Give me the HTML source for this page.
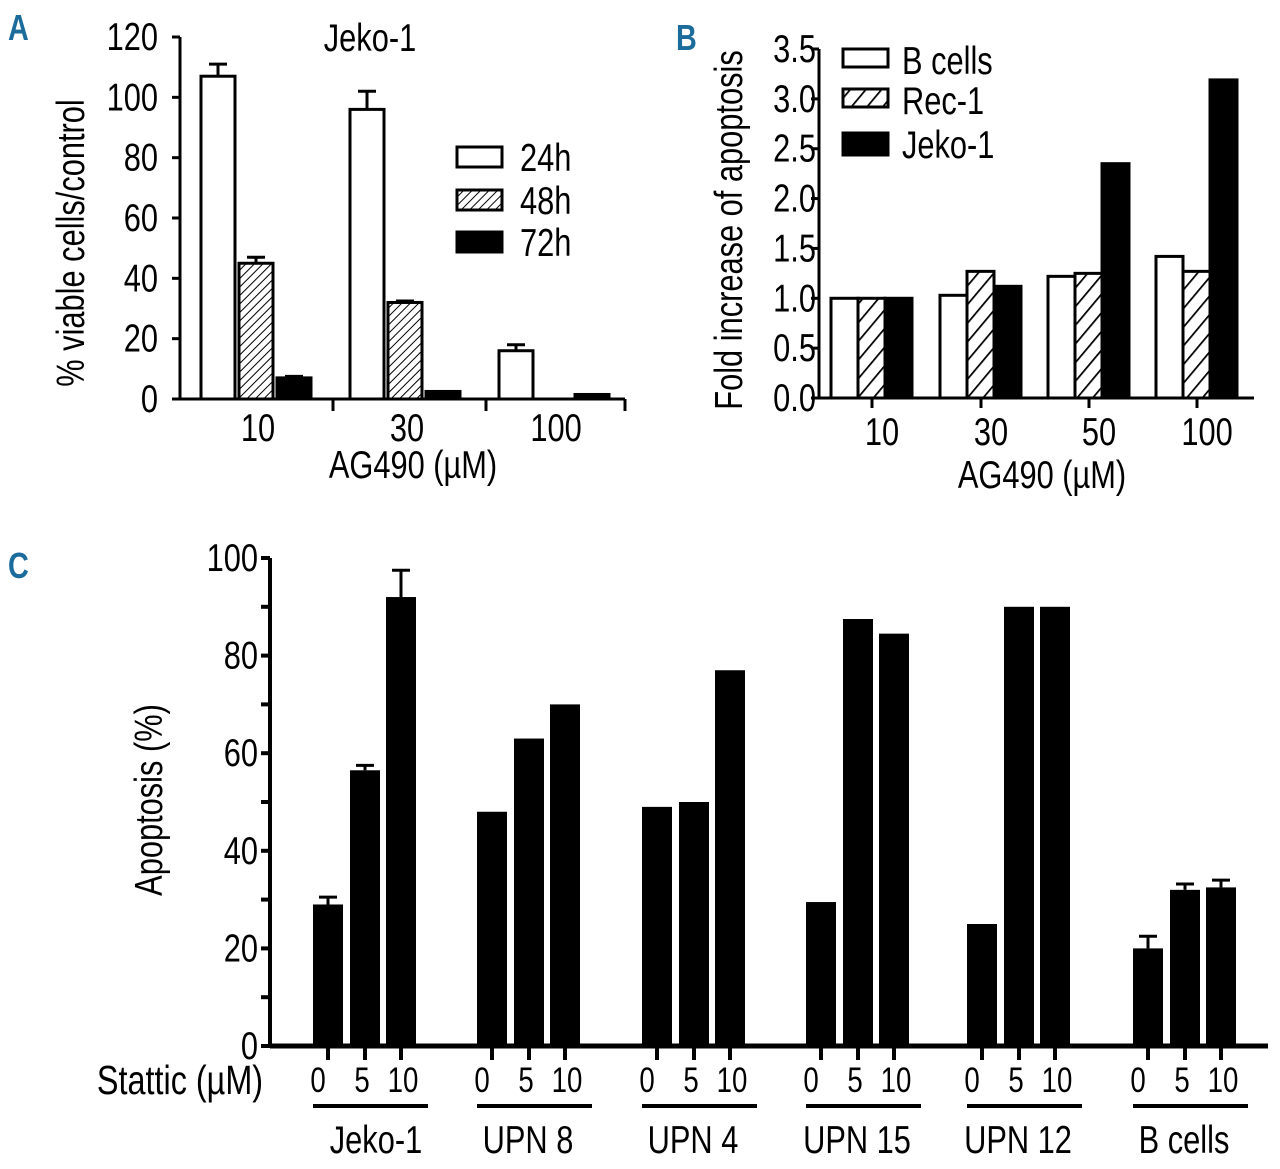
<!DOCTYPE html>
<html><head><meta charset="utf-8"><style>
html,body{margin:0;padding:0;background:#fff;}
svg{display:block;font-family:"Liberation Sans Narrow","Liberation Sans",sans-serif;}
</style></head><body>
<svg id="fig" width="1280" height="1169" viewBox="0 0 1280 1169">
<defs>
<pattern id="hatchA" width="6" height="6" patternUnits="userSpaceOnUse" patternTransform="rotate(45)"><rect width="6" height="6" fill="#fff"/><line x1="0" y1="0" x2="0" y2="6" stroke="#000" stroke-width="2"/></pattern>
<pattern id="hatchB" width="12" height="12" patternUnits="userSpaceOnUse" patternTransform="rotate(40)"><rect width="12" height="12" fill="#fff"/><line x1="0" y1="0" x2="0" y2="12" stroke="#000" stroke-width="3.5"/></pattern>
</defs>
<g id="pA"></g>
<g id="pB"></g>
<g id="pC"></g>
</svg>
<script>
// Panel A data
const aCats = ["10","30","100"];
const aSeries = ["24h","48h","72h"];
const a24 = [107, 96, 16];
const a48 = [45, 32, 0];
const a72 = [7, 2.5, 1.5];
const a24err = [4, 6, 2];
const a48err = [2, 0.5, 0];
const a72err = [0.5, 0.3, 0.2];
const aTicks = [0,20,40,60,80,100,120];
// Panel B data
const bCats = ["10","30","50","100"];
const bSeries = ["B cells","Rec-1","Jeko-1"];
const bB = [1.0, 1.03, 1.22, 1.42];
const bRec = [1.0, 1.27, 1.25, 1.27];
const bJeko = [1.0, 1.12, 2.35, 3.19];
const bTicks = ["0.0","0.5","1.0","1.5","2.0","2.5","3.0","3.5"];
// Panel C data
const cGroups = ["Jeko-1","UPN 8","UPN 4","UPN 15","UPN 12","B cells"];
const cDoses = ["0","5","10"];
const cVals = [[29,56.5,92],[48,63,70],[49,50,77],[29.5,87.5,84.5],[25,90,90],[20,32,32.5]];
const cErr = [[1.5,1,5.5],[0,0,0],[0,0,0],[0,0,0],[0,0,0],[2.5,1.2,1.5]];
const cTicks = [0,20,40,60,80,100];

const NS="http://www.w3.org/2000/svg";
const SX=0.79;
function mk(parent,tag,attrs,name,text){
  const e=document.createElementNS(NS,tag);
  for(const k in attrs) e.setAttribute(k,attrs[k]);
  
  
  if(text!==undefined) e.textContent=text;
  parent.appendChild(e); return e;
}
function txt(parent,x,y,size,anchor,name,text){
  return mk(parent,'text',{x:0,y:0,'font-size':size,'text-anchor':anchor,transform:'translate('+x+','+y+') scale('+SX+',1)'},name,text);
}
function vtxt(parent,x,y,size,name,text){
  return mk(parent,'text',{x:0,y:0,'font-size':size,'text-anchor':'middle',transform:'translate('+x+','+y+') rotate(-90) scale('+SX+',1)'},name,text);
}
const SW=3;
const fig=document.getElementById('fig');
[["A",8,40],["B",676,50],["C",8,578]].forEach(l=>{
  mk(fig,'text',{x:0,y:0,'font-size':36,'font-weight':'bold',fill:'#1b6c9c',transform:'translate('+l[1]+','+l[2]+') scale(0.8,1)'},'panel-letter-'+l[0].toLowerCase(),l[0]);
});
const FS=39;

// ---------- Panel A ----------
(function(){
  const g=document.getElementById('pA');
  const y=v=>399-v*(362/120);
  const x0=180, x1=625;
  const groupStart=[201,350,499], bw=34, step=38;
  mk(g,'line',{x1:x0,y1:y(120),x2:x0,y2:y(0)+1,stroke:'#000','stroke-width':SW},'y-axis');
  mk(g,'line',{x1:x0,y1:y(0),x2:x1,y2:y(0),stroke:'#000','stroke-width':SW},'x-axis');
  aTicks.forEach(t=>{
    mk(g,'line',{x1:x0-8,y1:y(t),x2:x0,y2:y(t),stroke:'#000','stroke-width':SW},'y-tick');
    txt(g,158,y(t)+13,FS,'end','y-tick-label',String(t));
  });
  [333,486,625].forEach(tx=>mk(g,'line',{x1:tx,y1:y(0),x2:tx,y2:y(0)+12,stroke:'#000','stroke-width':SW},'x-tick'));
  const series=[a24,a48,a72], errs=[a24err,a48err,a72err], fills=['#fff','url(#hatchA)','#000'];
  aCats.forEach((c,i)=>{
    series.forEach((s,j)=>{
      if(s[i]<=0) return;
      const bx=groupStart[i]+j*step;
      mk(g,'rect',{x:bx,y:y(s[i]),width:bw,height:y(0)-y(s[i]),fill:fills[j],stroke:'#000','stroke-width':SW},'bar-'+aSeries[j]+'-'+c);
      if(errs[j][i]>0.4){
        const cx=bx+bw/2;
        mk(g,'line',{x1:cx,y1:y(s[i]),x2:cx,y2:y(s[i]+errs[j][i]),stroke:'#000','stroke-width':SW},'error-bar');
        mk(g,'line',{x1:cx-9,y1:y(s[i]+errs[j][i]),x2:cx+9,y2:y(s[i]+errs[j][i]),stroke:'#000','stroke-width':SW},'error-cap');
      }
    });
    txt(g,groupStart[i]+57,441,FS,'middle','x-tick-label',c);
  });
  txt(g,413,478,FS,'middle','x-axis-title','AG490 (\u00b5M)');
  txt(g,370,51,FS,'middle','chart-title','Jeko-1');
  vtxt(g,84,243,FS,'y-axis-title','% viable cells/control');
  const ly=[147,190,232];
  aSeries.forEach((s,j)=>{
    mk(g,'rect',{x:457,y:ly[j],width:45,height:20,fill:fills[j],stroke:'#000','stroke-width':SW},'legend-swatch-'+s);
    txt(g,520,ly[j]+24,FS,'start','legend-label-'+s,s);
  });
})();

// ---------- Panel B ----------
(function(){
  const g=document.getElementById('pB');
  const y=v=>398-v*(349/3.5);
  const x0=819, x1=1254;
  const centers=[872,981,1089,1197], bw=27;
  mk(g,'line',{x1:x0,y1:y(3.5),x2:x0,y2:y(0)+1,stroke:'#000','stroke-width':SW},'y-axis');
  mk(g,'line',{x1:x0-4,y1:y(0),x2:x1,y2:y(0),stroke:'#000','stroke-width':SW},'x-axis');
  bTicks.forEach(t=>{
    const v=parseFloat(t);
    mk(g,'line',{x1:x0-8,y1:y(v),x2:x0,y2:y(v),stroke:'#000','stroke-width':SW},'y-tick');
    txt(g,816,y(v)+13,FS,'end','y-tick-label',t);
  });
  const series=[bB,bRec,bJeko], fills=['#fff','url(#hatchB)','#000'];
  bCats.forEach((c,i)=>{
    mk(g,'line',{x1:centers[i],y1:y(0),x2:centers[i],y2:y(0)+10,stroke:'#000','stroke-width':SW},'x-tick');
    series.forEach((s,j)=>{
      const bx=centers[i]-41+j*bw;
      mk(g,'rect',{x:bx,y:y(s[i]),width:bw,height:y(0)-y(s[i]),fill:fills[j],stroke:'#000','stroke-width':SW},'bar-'+bSeries[j]+'-'+c);
    });
    txt(g,centers[i]+10,445,FS,'middle','x-tick-label',c);
  });
  txt(g,1042,488,FS,'middle','x-axis-title','AG490 (\u00b5M)');
  vtxt(g,742,230,FS,'y-axis-title','Fold increase of apoptosis');
  const ly=[49,89,133];
  bSeries.forEach((s,j)=>{
    mk(g,'rect',{x:843,y:ly[j],width:45,height:j==2?22:18,fill:fills[j],stroke:'#000','stroke-width':SW},'legend-swatch-'+s);
    txt(g,902,ly[j]+25,FS,'start','legend-label-'+s,s);
  });
})();

// ---------- Panel C ----------
(function(){
  const g=document.getElementById('pC');
  const y=v=>1046-v*(488/100);
  const x0=270, x1=1268;
  const gStart=[328,492,657,821,982,1148], offs=[0,37,73], bw=30;
  mk(g,'line',{x1:x0,y1:y(100),x2:x0,y2:y(0),stroke:'#000','stroke-width':4},'y-axis');
  mk(g,'line',{x1:x0,y1:y(0),x2:x1,y2:y(0),stroke:'#000','stroke-width':5},'x-axis');
  for(let t=0;t<=100;t+=10){
    mk(g,'line',{x1:x0-9,y1:y(t),x2:x0,y2:y(t),stroke:'#000','stroke-width':4},'y-tick');
  }
  cTicks.forEach(t=>txt(g,258,y(t)+13,FS,'end','y-tick-label',String(t)));
  vtxt(g,162,800,FS,'y-axis-title','Apoptosis (%)');
  txt(g,180,1094,FS+2,'middle','x-axis-title','Stattic (\u00b5M)');
  cGroups.forEach((grp,i)=>{
    cVals[i].forEach((v,j)=>{
      const cx=gStart[i]+offs[j];
      mk(g,'rect',{x:cx-bw/2,y:y(v),width:bw,height:y(0)-y(v),fill:'#000'},'bar-'+grp+'-'+cDoses[j]);
      if(cErr[i][j]>0){
        mk(g,'line',{x1:cx,y1:y(v),x2:cx,y2:y(v+cErr[i][j]),stroke:'#000','stroke-width':3},'error-bar');
        mk(g,'line',{x1:cx-9,y1:y(v+cErr[i][j]),x2:cx+9,y2:y(v+cErr[i][j]),stroke:'#000','stroke-width':3},'error-cap');
      }
      mk(g,'line',{x1:cx,y1:y(0),x2:cx,y2:y(0)+14,stroke:'#000','stroke-width':4},'x-tick');
      txt(g,cx-(j==0?10:j==1?3:-2),1092,35,'middle','dose-label',cDoses[j]);
    });
    mk(g,'line',{x1:gStart[i]-15,y1:1106,x2:gStart[i]+100,y2:1106,stroke:'#000','stroke-width':4},'group-underline');
    txt(g,gStart[i]+(i==0?48:36),1153,FS,'middle','group-label-'+grp,grp);
  });
})();
</script>
</body></html>
